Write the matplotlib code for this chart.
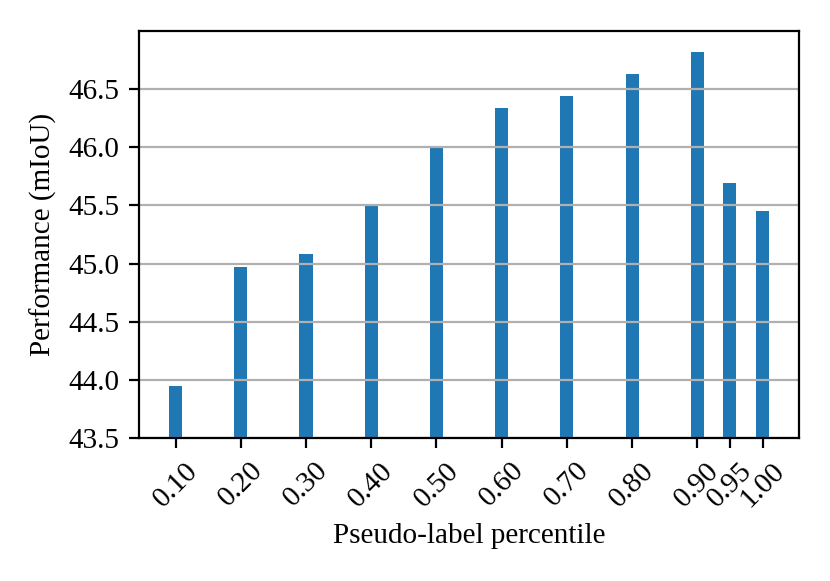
import matplotlib
matplotlib.use("Agg")
import matplotlib.pyplot as plt

percentiles = [0.10, 0.20, 0.30, 0.40, 0.50, 0.60, 0.70, 0.80, 0.90, 0.95, 1.00]
tick_labels = ["0.10", "0.20", "0.30", "0.40", "0.50", "0.60",
               "0.70", "0.80", "0.90", "0.95", "1.00"]
miou = [43.95, 44.97, 45.08, 45.50, 45.99, 46.34, 46.44, 46.63, 46.82, 45.69, 45.45]

plt.rcParams['font.family'] = 'serif'
plt.rcParams['font.serif'] = ['Liberation Serif', 'DejaVu Serif']
plt.rcParams['font.size'] = 10.5

fig = plt.figure(figsize=(4.15, 2.905), dpi=200)
ax = fig.add_subplot(111)
fig.subplots_adjust(left=0.1675, right=0.9627, top=0.9466, bottom=0.2461)

ax.bar(percentiles, miou, width=0.02, color='#1f77b4')
ax.set_ylim(43.5, 47.0)
ax.set_xticks(percentiles)
ax.set_xticklabels(tick_labels, rotation=45)
ax.set_yticks([43.5, 44.0, 44.5, 45.0, 45.5, 46.0, 46.5])
ax.yaxis.grid(True)
ax.set_xlabel('Pseudo-label percentile')
ax.set_ylabel('Performance (mIoU)')

fig.savefig('out.png', dpi=200)
plt.close(fig)
